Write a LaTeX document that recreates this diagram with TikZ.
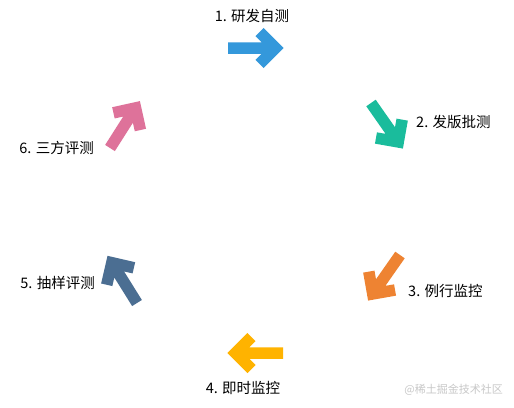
\documentclass[tikz,border=0pt]{standalone}
\usepackage{fontspec}
\newfontfamily\cjk{Noto Sans CJK SC}
\definecolor{c1}{HTML}{3498DB}
\definecolor{c2}{HTML}{1ABC9C}
\definecolor{c3}{HTML}{EE8332}
\definecolor{c4}{HTML}{FFB300}
\definecolor{c5}{HTML}{4B6E92}
\definecolor{c6}{HTML}{DE729A}
\definecolor{wm}{HTML}{C8C8C8}
\tikzset{
  chev/.pic={\path[line width=11.5pt, line join=miter, miter limit=10, line cap=butt, pic actions]
     (0,0) -- (47.5,0) (31.5,16) -- (47.5,0) -- (31.5,-16);},
  lbl/.style={font=\cjk\fontsize{14.5}{17}\selectfont, text=black, inner sep=0pt},
}
\begin{document}
\begin{tikzpicture}[x=1pt,y=-1pt]
\useasboundingbox[fill=white] (0,0) rectangle (514,407);
\pic[draw=c1] at (228,48) {chev};
\pic[draw=c2, rotate=-55] at (371,103) {chev};
\pic[draw=c3, rotate=-125] at (400,255) {chev};
\pic[draw=c4, rotate=180] at (283,353) {chev};
\pic[draw=c5, rotate=122] at (137,303) {chev};
\pic[draw=c6, rotate=57.5] at (110,148) {chev};
\node[lbl] (l1) at (252,16) {1. 研发自测};
\node[lbl, anchor=west] (l2) at (416,122) {2. 发版批测};
\node[lbl, anchor=west] (l3) at (408,291) {3. 例行监控};
\node[lbl] (l4) at (243,388) {4. 即时监控};
\node[lbl, anchor=east] (l5) at (95,283) {5. 抽样评测};
\node[lbl, anchor=east] (l6) at (94,148) {6. 三方评测};
\node[font=\cjk\fontsize{11}{13}\selectfont, text=wm, inner sep=0pt, anchor=east] (wm) at (503,390) {@稀土掘金技术社区};
\end{tikzpicture}
\end{document}
